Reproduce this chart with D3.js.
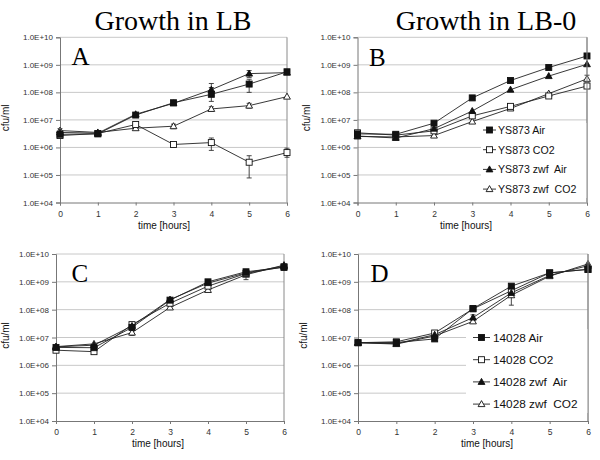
<!DOCTYPE html>
<html><head><meta charset="utf-8">
<script src="https://cdn.jsdelivr.net/npm/d3@7"></script>
<style>
html,body{margin:0;padding:0;background:#fff;}
svg{display:block;}
</style></head>
<body>
<svg id="chart" width="600" height="460" font-family="Liberation Sans, Arial, sans-serif"></svg>
<script>
// ---- data ----
const hours = [0, 1, 2, 3, 4, 5, 6];
const yTicks = [1e4, 1e5, 1e6, 1e7, 1e8, 1e9, 1e10];
const yTickLabels = ["1.0E+04","1.0E+05","1.0E+06","1.0E+07","1.0E+08","1.0E+09","1.0E+10"];
const titles = ["Growth in LB", "Growth in LB-0"];
const panelLetters = ["A", "B", "C", "D"];
const legendB = ["YS873 Air", "YS873 CO2", "YS873 zwf  Air", "YS873 zwf  CO2"];
const legendD = ["14028 Air", "14028 CO2", "14028 zwf  Air", "14028 zwf  CO2"];

// Panel A (YS873, LB)
const A_air     = [3.0e6, 3.1e6, 1.5e7, 4.2e7, 8.5e7, 2.0e8, 5.6e8];
const A_co2     = [2.7e6, 3.2e6, 6.8e6, 1.28e6, 1.5e6, 2.9e5, 6.5e5];
const A_zwfAir  = [3.5e6, 3.3e6, 1.6e7, 4.0e7, 1.25e8, 4.8e8, 5.2e8];
const A_zwfCo2  = [4.1e6, 3.5e6, 5.0e6, 5.9e6, 2.5e7, 3.3e7, 7.0e7];
// Panel B (YS873, LB-0)
const B_air     = [3.1e6, 3.0e6, 7.6e6, 6.3e7, 2.7e8, 8.0e8, 2.1e9];
const B_co2     = [3.4e6, 2.8e6, 4.0e6, 1.4e7, 3.1e7, 7.4e7, 1.7e8];
const B_zwfAir  = [2.6e6, 2.2e6, 4.8e6, 2.1e7, 1.25e8, 3.9e8, 1.05e9];
const B_zwfCo2  = [2.5e6, 2.4e6, 2.7e6, 8.7e6, 2.6e7, 9.0e7, 3.1e8];
// Panel C (14028, LB)
const C_air     = [4.4e6, 4.3e6, 2.3e7, 2.2e8, 1.0e9, 2.3e9, 3.3e9];
const C_co2     = [3.5e6, 3.1e6, 2.9e7, 1.7e8, 7.0e8, 2.0e9, 3.5e9];
const C_zwfAir  = [4.6e6, 5.3e6, 2.6e7, 2.3e8, 9.0e8, 2.1e9, 3.7e9];
const C_zwfCo2  = [4.7e6, 5.9e6, 1.5e7, 1.2e8, 5.1e8, 1.8e9, 4.0e9];
// Panel D (14028, LB-0)
const D_air     = [6.5e6, 6.6e6, 8.9e6, 1.1e8, 7.0e8, 2.1e9, 2.8e9];
const D_co2     = [6.5e6, 7.0e6, 1.45e7, 1.07e8, 4.8e8, 2.1e9, 2.8e9];
const D_zwfAir  = [6.5e6, 6.0e6, 1.26e7, 5.2e7, 4.0e8, 1.7e9, 3.8e9];
const D_zwfCo2  = [6.5e6, 5.8e6, 1.14e7, 3.8e7, 3.3e8, 1.6e9, 4.4e9];

// error bars: [series index, hour, low, high]
const A_err = [[1,4,7.8e5,2.2e6],[1,5,7.8e4,5.0e5],[1,6,4.4e5,9.4e5],
               [0,4,4.7e7,1.5e8],[0,5,1.0e8,3.0e8],[2,4,8e7,2.1e8],[2,5,3.5e8,6.2e8],
               [3,3,4.8e6,7.0e6],[3,4,2.1e7,3.0e7],[3,5,2.7e7,4.0e7],[3,0,3.4e6,4.8e6]];
const B_err = [[3,6,2.2e8,4.2e8]];
const C_err = [[3,5,1.2e9,2.4e9],[0,6,2.7e9,4.2e9],[3,2,1.2e7,2.0e7]];
const D_err = [[3,4,1.45e8,4.5e8],[2,3,4.0e7,6.5e7]];

// ---- drawing ----
const svg = d3.select("#chart");
const serif = "Liberation Serif, Times New Roman, serif";
const markers = ["squareFilled", "squareOpen", "triFilled", "triOpen"];

const panels = [
  {letter: panelLetters[0], series: [A_air, A_co2, A_zwfAir, A_zwfCo2], err: A_err, legend: null,
   x0: 60, x1: 287, yT: 37.3, yB: 202.5, letterX: 71.5, letterY: 64.5, ylabX: 9, xlabX: 164},
  {letter: panelLetters[1], series: [B_air, B_co2, B_zwfAir, B_zwfCo2], err: B_err, legend: legendB,
   x0: 357.5, x1: 587, yT: 37.3, yB: 202.5, letterX: 369, letterY: 65.5, ylabX: 310, xlabX: 466,
   leg: {rx: 481, ry: 123, rw: 106, rh: 75, y0: 130, dy: 19.7, lx0: 483, lx1: 496, tx: 498, fs: 10.6}},
  {letter: panelLetters[2], series: [C_air, C_co2, C_zwfAir, C_zwfCo2], err: C_err, legend: null,
   x0: 56, x1: 284, yT: 254, yB: 421, letterX: 71.5, letterY: 281.5, ylabX: 9, xlabX: 158},
  {letter: panelLetters[3], series: [D_air, D_co2, D_zwfAir, D_zwfCo2], err: D_err, legend: legendD,
   x0: 358, x1: 588, yT: 254, yB: 421, letterX: 370.5, letterY: 281.5, ylabX: 307, xlabX: 487,
   leg: {rx: 466, ry: 329, rw: 122, rh: 84, y0: 337.5, dy: 22.2, lx0: 473, lx1: 490, tx: 493, fs: 11.8}}
];

function drawMarker(g, type, x, y) {
  const s = 6;
  if (type.startsWith("square")) {
    g.append("rect").attr("x", x - s/2).attr("y", y - s/2).attr("width", s).attr("height", s)
      .attr("fill", type === "squareFilled" ? "#111" : "#fff").attr("stroke", "#111").attr("stroke-width", 0.9);
  } else {
    const h = 6;
    const pts = [[x, y - h/2 - 0.5], [x - 3.4, y + h/2 - 0.5], [x + 3.4, y + h/2 - 0.5]];
    g.append("polygon").attr("points", pts.map(p => p.join(",")).join(" "))
      .attr("fill", type === "triFilled" ? "#111" : "#fff").attr("stroke", "#111").attr("stroke-width", 0.9);
  }
}

panels.forEach(p => {
  const x = d3.scaleLinear().domain([0, 6]).range([p.x0, p.x1]);
  const y = d3.scaleLog().domain([1e4, 1e10]).range([p.yB, p.yT]);
  const g = svg.append("g");

  // gridlines
  g.selectAll(".grid").data(yTicks.slice(1)).enter().append("line")
    .attr("x1", p.x0).attr("x2", p.x1).attr("y1", d => y(d)).attr("y2", d => y(d))
    .attr("stroke", "#c8c8c8").attr("stroke-width", 1);
  // box right border
  g.append("line").attr("x1", p.x1).attr("x2", p.x1).attr("y1", p.yT).attr("y2", p.yB)
    .attr("stroke", "#8a8a8a").attr("stroke-width", 1);

  // y axis
  const yAxis = d3.axisLeft(y).tickValues(yTicks).tickFormat((d, i) => yTickLabels[i]).tickSize(4).tickPadding(3);
  const ya = g.append("g").attr("transform", `translate(${p.x0},0)`).call(yAxis);
  ya.attr("font-family", null);
  ya.select(".domain").attr("stroke", "#777");
  ya.selectAll(".tick line").attr("stroke", "#777");
  ya.selectAll(".tick text").attr("font-size", 8).attr("fill", "#333");

  // x axis
  const xAxis = d3.axisBottom(x).tickValues(hours).tickFormat(d3.format("d")).tickSize(3).tickPadding(5);
  const xa = g.append("g").attr("transform", `translate(0,${p.yB})`).call(xAxis);
  xa.attr("font-family", null);
  xa.select(".domain").attr("stroke", "#777");
  xa.selectAll(".tick line").attr("stroke", "#777");
  xa.selectAll(".tick text").attr("font-size", 8.5).attr("fill", "#333");

  // axis titles
  g.append("text").attr("x", p.xlabX).attr("y", p.yB + 26).attr("text-anchor", "middle")
    .attr("font-size", 10).attr("fill", "#111").text("time [hours]");
  g.append("text").attr("transform", `translate(${p.ylabX},${(p.yT + p.yB) / 2 - 2}) rotate(-90)`)
    .attr("text-anchor", "middle").attr("font-size", 10).attr("fill", "#111").text("cfu/ml");

  // panel letter
  g.append("text").attr("x", p.letterX).attr("y", p.letterY)
    .attr("font-family", serif).attr("font-size", 25).attr("fill", "#000").text(p.letter);

  // error bars
  p.err.forEach(e => {
    const [si, h, lo, hi] = e;
    const cx = x(h);
    g.append("line").attr("x1", cx).attr("x2", cx).attr("y1", y(lo)).attr("y2", y(hi)).attr("stroke", "#333").attr("stroke-width", 0.9);
    [lo, hi].forEach(v => g.append("line").attr("x1", cx - 2.5).attr("x2", cx + 2.5).attr("y1", y(v)).attr("y2", y(v))
      .attr("stroke", "#333").attr("stroke-width", 0.9));
  });

  // series lines then markers
  const line = d3.line().x((d, i) => x(hours[i])).y(d => y(d));
  p.series.forEach(s => {
    g.append("path").attr("d", line(s)).attr("fill", "none").attr("stroke", "#222").attr("stroke-width", 0.9);
  });
  [3, 1, 2, 0].forEach(si => {
    p.series[si].forEach((v, i) => drawMarker(g, markers[si], x(hours[i]), y(v)));
  });

  // legend
  if (p.legend) {
    const L = p.leg;
    const lg = g.append("g");
    lg.append("rect").attr("x", L.rx).attr("y", L.ry).attr("width", L.rw).attr("height", L.rh).attr("fill", "#fff");
    p.legend.forEach((name, i) => {
      const cy = L.y0 + i * L.dy;
      lg.append("line").attr("x1", L.lx0).attr("x2", L.lx1).attr("y1", cy).attr("y2", cy).attr("stroke", "#222").attr("stroke-width", 0.9);
      drawMarker(lg, markers[i], (L.lx0 + L.lx1) / 2, cy);
      lg.append("text").attr("x", L.tx).attr("y", cy + L.fs * 0.36).attr("font-size", L.fs).attr("fill", "#111")
        .style("white-space", "pre").text(name);
    });
    g.append("line").attr("x1", p.x1).attr("x2", p.x1).attr("y1", p.yT).attr("y2", p.yB).attr("stroke", "#8a8a8a");
  }
});

// titles
svg.append("text").attr("x", 173).attr("y", 30).attr("text-anchor", "middle")
  .attr("font-family", serif).attr("font-size", 28).text(titles[0]);
svg.append("text").attr("x", 486).attr("y", 30).attr("text-anchor", "middle")
  .attr("font-family", serif).attr("font-size", 28).text(titles[1]);
</script>
</body></html>
